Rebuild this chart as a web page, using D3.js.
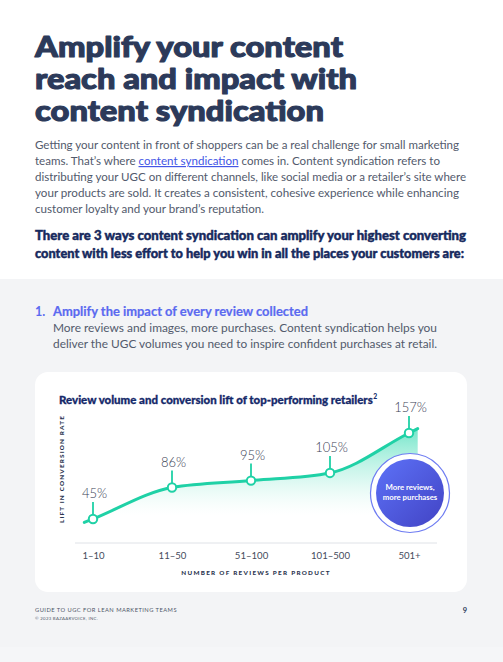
<!DOCTYPE html>
<html>
<head>
<meta charset="utf-8">
<script src="https://cdn.jsdelivr.net/npm/d3@7"></script>
<style>
  body { margin: 0; background: #fff; }
  svg { display: block; font-family: Lato, "Open Sans", sans-serif; }
</style>
</head>
<body>
<div id="page"></div>
<script>
// chart data
const categories = ["1–10", "11–50", "51–100", "101–500", "501+"];
const lift = [45, 86, 95, 105, 157];
const chartTitle = "Review volume and conversion lift of top-performing retailers";
const yTitle = "LIFT IN CONVERSION RATE";
const xTitle = "NUMBER OF REVIEWS PER PRODUCT";
const badgeLines = ["More reviews,", "more purchases"];

// page copy
const headline = ["Amplify your content", "reach and impact with", "content syndication"];
const intro = [
  "Getting your content in front of shoppers can be a real challenge for small marketing",
  ["teams. That’s where ", "content syndication", " comes in. Content syndication refers to"],
  "distributing your UGC on different channels, like social media or a retailer’s site where",
  "your products are sold. It creates a consistent, cohesive experience while enhancing",
  "customer loyalty and your brand’s reputation."
];
const lead = [
  "There are 3 ways content syndication can amplify your highest converting",
  "content with less effort to help you win in all the places your customers are:"
];
const pointTitle = "Amplify the impact of every review collected";
const pointBody = [
  "More reviews and images, more purchases. Content syndication helps you",
  "deliver the UGC volumes you need to inspire confident purchases at retail."
];

const W = 503, H = 662;
const svg = d3.select("#page").append("svg")
    .attr("width", W)
    .attr("height", H);

const defs = svg.append("defs");

// squeeze a line to the width it has in the print layout
function fit(sel, w) {
    sel.attr("textLength", w).attr("lengthAdjust", "spacingAndGlyphs");
    return sel;
}

// ---- header ----
headline.forEach((t, i) => {
    fit(svg.append("text")
        .attr("x", 35).attr("y", 57 + i * 32)
        .attr("font-size", 28.5).attr("font-weight", 900)
        .attr("fill", "#2c3a5a")
        .attr("stroke", "#2c3a5a").attr("stroke-width", 1.1)
        .attr("stroke-linejoin", "round")
        .text(t), [308, 322, 289][i]);
});

const introW = [424, 405, 431, 424, 229];
intro.forEach((t, i) => {
    const tx = svg.append("text")
        .attr("x", 35).attr("y", 149 + i * 16)
        .attr("font-size", 11.8)
        .attr("fill", "#525a6c");
    if (Array.isArray(t)) {
        tx.append("tspan").text(t[0]);
        tx.append("tspan").attr("fill", "#4356e6")
            .attr("text-decoration", "underline").text(t[1]);
        tx.append("tspan").text(t[2]);
    } else {
        tx.text(t);
    }
    fit(tx, introW[i]);
});

lead.forEach((t, i) => {
    fit(svg.append("text")
        .attr("x", 35).attr("y", 240 + i * 18)
        .attr("font-size", 13.2).attr("font-weight", 900)
        .attr("fill", "#172a5e")
        .attr("stroke", "#172a5e").attr("stroke-width", 0.45)
        .text(t), [431, 429][i]);
});

// ---- grey section ----
svg.append("rect")
    .attr("x", 0).attr("y", 279).attr("width", W).attr("height", H - 279)
    .attr("fill", "#f3f4f6");
svg.append("rect")
    .attr("x", 0).attr("y", 647).attr("width", W).attr("height", H - 647)
    .attr("fill", "#f5f6f8");

svg.append("text")
    .attr("x", 35).attr("y", 316)
    .attr("font-size", 12.5).attr("font-weight", 700)
    .attr("fill", "#5b6af0").text("1.");
fit(svg.append("text")
    .attr("x", 53).attr("y", 316)
    .attr("font-size", 12.5).attr("font-weight", 700)
    .attr("fill", "#5b6af0")
    .attr("stroke", "#5b6af0").attr("stroke-width", 0.2)
    .text(pointTitle), 255);

pointBody.forEach((t, i) => {
    fit(svg.append("text")
        .attr("x", 53).attr("y", 332 + i * 16)
        .attr("font-size", 11.8)
        .attr("fill", "#525a6c")
        .text(t), 384);
});

// ---- card ----
svg.append("rect")
    .attr("x", 35).attr("y", 372).attr("width", 432).attr("height", 220)
    .attr("rx", 13)
    .attr("fill", "#fff");

// chart title: pick the font size that gives the printed width
const titleW = 314;
const ct = svg.append("text")
    .attr("x", 59).attr("y", 404)
    .attr("font-size", 11.6).attr("font-weight", 900)
    .attr("fill", "#15296a")
    .attr("stroke", "#15296a").attr("stroke-width", 0.3)
    .text(chartTitle);
const natural = ct.node().getComputedTextLength();
ct.attr("font-size", 11.6 * titleW / natural);
svg.append("text")
    .attr("x", 59 + ct.node().getComputedTextLength() + 0.6).attr("y", 399)
    .attr("font-size", 6.8).attr("font-weight", 900)
    .attr("fill", "#15296a")
    .text("2");

// ---- chart ----
const x = d3.scalePoint()
    .domain(categories)
    .range([93, 409]);

const y = d3.scaleLinear()
    .domain([45, 157])
    .range([519, 433]);

const axisY = 543;

const xAxis = d3.axisBottom(x).tickSize(0).tickPadding(9);
const gx = svg.append("g")
    .attr("class", "x-axis")
    .attr("transform", `translate(0,${axisY})`)
    .call(xAxis);
gx.select(".domain")
    .attr("d", "M75,0H437")
    .attr("stroke", "#dfe2e7");
gx.selectAll("text")
    .attr("font-family", "Lato, sans-serif")
    .attr("font-size", 9.6)
    .attr("fill", "#454b5c");

svg.append("text")
    .attr("class", "x-axis-title")
    .attr("x", 256).attr("y", 575)
    .attr("text-anchor", "middle")
    .attr("font-size", 6.3).attr("font-weight", 900)
    .attr("letter-spacing", 1.3)
    .attr("fill", "#2b3550")
    .text(xTitle);

svg.append("text")
    .attr("class", "y-axis-title")
    .attr("transform", "translate(64,469) rotate(-90)")
    .attr("text-anchor", "middle")
    .attr("font-size", 6.3).attr("font-weight", 900)
    .attr("letter-spacing", 1.2)
    .attr("fill", "#2b3550")
    .text(yTitle);

// line runs a little past the first and last points
const step = x.step();
const n = lift.length;
const tail = 0.11;
const linePts = [
    [x(categories[0]) - tail * step, lift[0] - tail * (lift[1] - lift[0])],
    ...categories.map((c, i) => [x(c), lift[i]]),
    [x(categories[n - 1]) + tail * step, lift[n - 1] + tail * (lift[n - 1] - lift[n - 2])]
];

const grad = defs.append("linearGradient")
    .attr("id", "fade")
    .attr("gradientUnits", "userSpaceOnUse")
    .attr("x1", 0).attr("x2", 0)
    .attr("y1", y(160)).attr("y2", y(50));
grad.append("stop").attr("offset", 0).attr("stop-color", "#3fdcb5").attr("stop-opacity", 0.7);
grad.append("stop").attr("offset", 0.55).attr("stop-color", "#8be9d2").attr("stop-opacity", 0.35);
grad.append("stop").attr("offset", 1).attr("stop-color", "#c9f5ea").attr("stop-opacity", 0);

const area = d3.area()
    .x(d => d[0])
    .y0(y(40))
    .y1(d => y(d[1]))
    .curve(d3.curveMonotoneX);

svg.append("path")
    .datum(linePts)
    .attr("d", area)
    .attr("fill", "url(#fade)");

const line = d3.line()
    .x(d => d[0])
    .y(d => y(d[1]))
    .curve(d3.curveMonotoneX);

svg.append("path")
    .datum(linePts)
    .attr("d", line)
    .attr("fill", "none")
    .attr("stroke", "#1fd1a6")
    .attr("stroke-width", 3)
    .attr("stroke-linecap", "round");

// badge
const bx = 410, by = 493;
const bg = defs.append("linearGradient")
    .attr("id", "badge")
    .attr("x1", 0).attr("y1", 0).attr("x2", 1).attr("y2", 1);
bg.append("stop").attr("offset", 0).attr("stop-color", "#5d72f8");
bg.append("stop").attr("offset", 1).attr("stop-color", "#4243c4");

svg.append("circle")
    .attr("cx", bx).attr("cy", by).attr("r", 39.5)
    .attr("fill", "#fff")
    .attr("stroke", "#6e7cf2")
    .attr("stroke-width", 1.2);
svg.append("circle")
    .attr("cx", bx).attr("cy", by).attr("r", 34)
    .attr("fill", "url(#badge)");
badgeLines.forEach((t, i) => {
    svg.append("text")
        .attr("x", bx).attr("y", by - 3 + i * 9.5)
        .attr("text-anchor", "middle")
        .attr("font-size", 7.8).attr("font-weight", 700)
        .attr("fill", "#fff")
        .text(t);
});

// markers, stems and value labels
const pts = svg.selectAll(".pt")
    .data(lift)
    .enter()
    .append("g")
    .attr("class", "pt")
    .attr("transform", (d, i) => `translate(${x(categories[i])},${y(d)})`);

pts.append("line")
    .attr("y1", -4).attr("y2", -17)
    .attr("stroke", "#1fd1a6")
    .attr("stroke-width", 1.8);

pts.append("circle")
    .attr("r", 4.2)
    .attr("fill", "#fff")
    .attr("stroke", "#1fd1a6")
    .attr("stroke-width", 2);

pts.append("text")
    .attr("y", -21)
    .attr("x", 1.5)
    .attr("text-anchor", "middle")
    .attr("font-size", 13)
    .attr("font-weight", 300)
    .attr("fill", "#3b4255")
    .text(d => d + "%");

// ---- footer ----
fit(svg.append("text")
    .attr("x", 35).attr("y", 612)
    .attr("font-size", 6.2)
    .attr("letter-spacing", 0.5)
    .attr("fill", "#4f5668")
    .text("GUIDE TO UGC FOR LEAN MARKETING TEAMS"), 142);
fit(svg.append("text")
    .attr("x", 35).attr("y", 620)
    .attr("font-size", 4.4)
    .attr("letter-spacing", 0.3)
    .attr("fill", "#4f5668")
    .text("© 2023 BAZAARVOICE, INC."), 63);
svg.append("text")
    .attr("x", 467).attr("y", 613)
    .attr("text-anchor", "end")
    .attr("font-size", 7.5).attr("font-weight", 700)
    .attr("fill", "#2c3a5a")
    .text("9");
</script>
</body>
</html>
